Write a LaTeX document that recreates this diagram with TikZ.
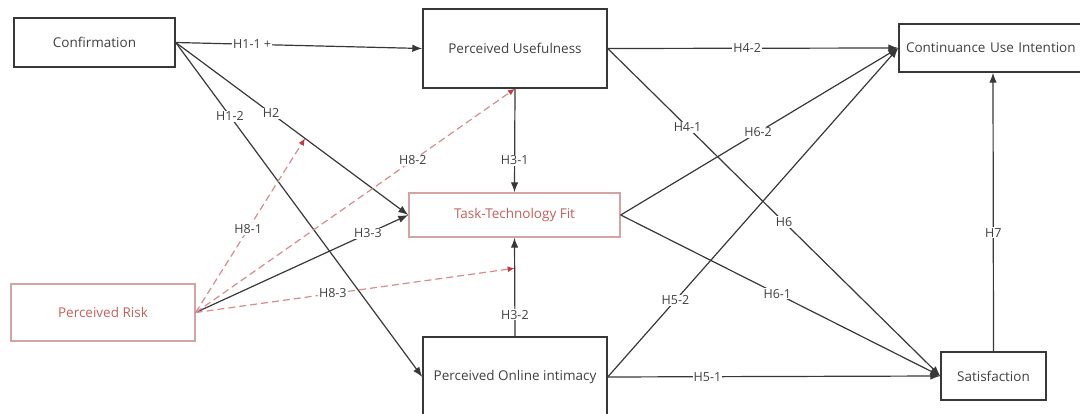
\documentclass[tikz,border=0pt]{standalone}
\usepackage{fontspec}
\setmainfont{Open Sans}
\usetikzlibrary{arrows.meta,calc}
\definecolor{ink}{HTML}{383838}
\definecolor{txt}{HTML}{404040}
\definecolor{redbox}{HTML}{D4A3A3}
\definecolor{redtxt}{HTML}{C5605C}
\definecolor{reddash}{HTML}{D58C8C}
\definecolor{redtip}{HTML}{C83A3A}
\tikzset{
  box/.style={draw=ink, line width=1.4pt, fill=white, inner sep=0pt, font=\fontsize{13.5}{16}\selectfont, text=txt},
  rednode/.style={box, draw=redbox, text=redtxt},
  conn/.style={draw=ink, line width=1.2pt, -{Latex[length=10pt,width=7.5pt]}},
  rconn/.style={draw=reddash, line width=1.2pt, dash pattern=on 7pt off 4pt, -{Latex[length=7pt,width=6pt,color=redtip]}},
  lab/.style={fill=white, inner sep=1pt, text=txt, font=\fontsize{12.5}{15}\selectfont},
}
\begin{document}
\begin{tikzpicture}[x=1pt,y=-1pt]
\useasboundingbox (0,0) rectangle (1080,414);
\begin{scope}
\clip (0,0) rectangle (1080,414);
\node[box, minimum width=161pt, minimum height=49pt] (conf) at (94.5,42.5) {Confirmation};
\node[box, minimum width=184pt, minimum height=79pt] (pu) at (515,48.5) {Perceived Usefulness};
\node[box, minimum width=188pt, minimum height=48pt, text width=174pt, align=left] (cui) at (993,48) {Continuance Use Intention};
\node[rednode, minimum width=211pt, minimum height=44pt] (ttf) at (514.5,215) {Task-Technology Fit};
\node[rednode, minimum width=184pt, minimum height=57pt] (pr) at (103,312.5) {Perceived Risk};
\node[box, minimum width=184pt, minimum height=80pt] (poi) at (515,377) {};
\node[text=txt, font=\fontsize{13.5}{16}\selectfont] (poit) at (515,377) {Perceived Online intimacy};
\node[box, minimum width=105pt, minimum height=48pt] (sat) at (993.5,376) {Satisfaction};

\coordinate (h2pt) at ($(conf.east)!0.556!(ttf.west)$);
\coordinate (h32pt) at ($(poi.north)!0.69!(ttf.south)$);

\draw[conn] (conf.east) -- node[lab, pos=0.31] {H1-1 +} (pu.west);
\draw[conn] (conf.east) -- node[lab, pos=0.41] {H2} (ttf.west);
\draw[conn] (conf.east) -- node[lab, pos=0.22] {H1-2} (poi.west);
\draw[conn] (pu.south) -- node[lab, pos=0.69] {H3-1} (ttf.north);
\draw[conn] (poi.north) -- node[lab, pos=0.22] {H3-2} (ttf.south);
\draw[conn] (pr.east) -- node[lab, pos=0.81] {H3-3} (ttf.west);

\draw[conn] (pu.east) -- node[lab, pos=0.48] {H4-2} (cui.west);
\draw[conn] (pu.east) -- node[lab, pos=0.24] {H4-1} node[lab, pos=0.53] {H6} (sat.west);
\draw[conn] (ttf.east) -- node[lab, pos=0.495] {H6-2} (cui.west);
\draw[conn] (ttf.east) -- node[lab, pos=0.49] {H6-1} (sat.west);
\draw[conn] (poi.east) -- node[lab, pos=0.233] {H5-2} (cui.west);
\draw[conn] (poi.east) -- node[lab, pos=0.30] {H5-1} (sat.west);
\draw[conn] (sat.north) -- node[lab, pos=0.425] {H7} (cui.south);

\draw[rconn] (pr.east) -- node[lab, pos=0.48] {H8-1} (h2pt);
\draw[rconn] (pr.east) -- node[lab, pos=0.68] {H8-2} (pu.south);
\draw[rconn] (pr.east) -- node[lab, pos=0.43] {H8-3} (h32pt);
\end{scope}
\end{tikzpicture}
\end{document}
